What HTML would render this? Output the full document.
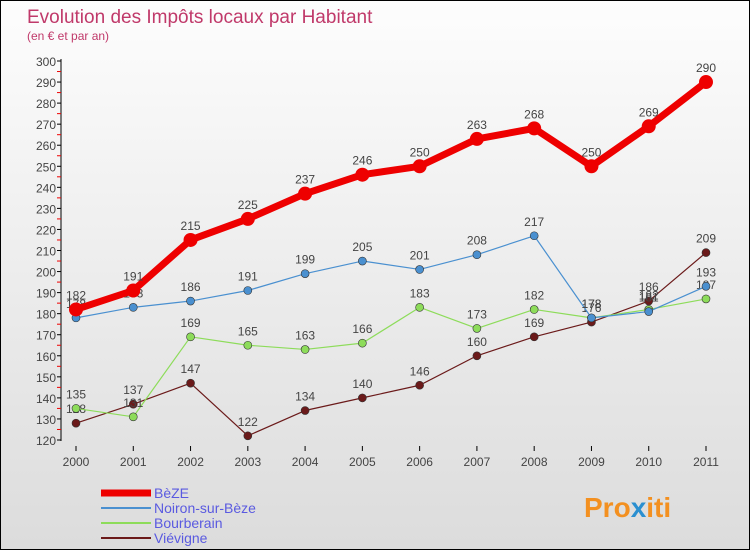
<!DOCTYPE html>
<html><head><meta charset="utf-8"><style>
body{margin:0}
#c{width:748px;height:548px;border:1px solid #000;background:linear-gradient(#fdfdfd,#dcdcdc);position:relative;font-family:"Liberation Sans",sans-serif;overflow:hidden}
svg text{font-family:"Liberation Sans",sans-serif}
</style></head><body>
<div id="c">
<svg id="s" width="748" height="548">
<text x="26" y="22" font-size="19" fill="#c0396a">Evolution des Impôts locaux par Habitant</text>
<text x="26" y="39" font-size="12" fill="#c0396a">(en € et par an)</text>
<g id="ax"></g><g id="ser"></g><g id="leg"></g>
<text x="583" y="516" font-size="28" font-weight="bold" fill="#f39020">Pro<tspan fill="#2a8fd0">x</tspan>iti</text>
</svg></div>
<script>
const years=[2000,2001,2002,2003,2004,2005,2006,2007,2008,2009,2010,2011];
const yTicks=[120,130,140,150,160,170,180,190,200,210,220,230,240,250,260,270,280,290,300];
const beze=[182,191,215,225,237,246,250,263,268,250,269,290];
const noiron=[178,183,186,191,199,205,201,208,217,178,181,193];
const bourberain=[135,131,169,165,163,166,183,173,182,178,182,187];
const vievigne=[128,137,147,122,134,140,146,160,169,176,186,209];
const NS="http://www.w3.org/2000/svg";
const X=i=>75+i*(705-75)/11, Y=v=>439-(v-120)*(439-60)/180;
function mk(t,a,p){const e=document.createElementNS(NS,t);for(const k in a)e.setAttribute(k,a[k]);p.appendChild(e);return e;}
const ax=document.getElementById('ax');
const yl=mk('line',{x1:60,y1:58,x2:60,y2:440,stroke:'#000'},ax);


yTicks.forEach((v,i)=>{
 mk('line',{x1:56,y1:Y(v),x2:60,y2:Y(v),stroke:'#000'},ax);
 if(i<yTicks.length-1)mk('line',{x1:56,y1:Y(v+5),x2:60,y2:Y(v+5),stroke:'#e00'},ax);
 const t=mk('text',{x:55,y:Y(v)+5,'font-size':12,fill:'#444','text-anchor':'end'},ax);t.textContent=v;
 
 
});
years.forEach((y,i)=>{
 mk('line',{x1:X(i),y1:445,x2:X(i),y2:450,stroke:'#000'},ax);
 const t=mk('text',{x:X(i),y:465,'font-size':12,fill:'#444','text-anchor':'middle'},ax);t.textContent=y;
 
 
});
const series=[[vievigne,'#6b1a1a',1.2,4,'vievigne'],[bourberain,'#8ddc5a',1.2,4,'bourberain'],[noiron,'#4a90d0',1.2,4,'noiron-sur-beze'],[beze,'#ee0000',7,7,'beze']];
const sg=document.getElementById('ser');
series.forEach(([d,c,w,r,n])=>{
 const g=mk('g',{},sg);
 
 
 const pl=mk('polyline',{points:d.map((v,i)=>X(i)+','+Y(v)).join(' '),fill:'none',stroke:c,'stroke-width':w,'stroke-linejoin':'round'},g);
 
 
 d.forEach((v,i)=>{
  const p=mk('circle',{cx:X(i),cy:Y(v),r:r,fill:c,stroke:w>2?c:'#333','stroke-width':w>2?0:0.6},g);
  
  
  const t=mk('text',{x:X(i),y:Y(v)-10,'font-size':12,fill:'#444','text-anchor':'middle'},g);t.textContent=v;
  
  
 });
});
const leg=document.getElementById('leg');
[['BèZE','#ee0000',7],['Noiron-sur-Bèze','#4a90d0',2],['Bourberain','#8ddc5a',2],['Viévigne','#6b1a1a',2]].forEach(([n,c,w],i)=>{
 const y=492+i*15;
 const g=mk('g',{},leg);
 
 
 mk('line',{x1:100,y1:y,x2:150,y2:y,stroke:c,'stroke-width':w},g);
 const t=mk('text',{x:153,y:y+5,'font-size':14,fill:'#5a5ae0'},g);t.textContent=n;
});
</script></body></html>
